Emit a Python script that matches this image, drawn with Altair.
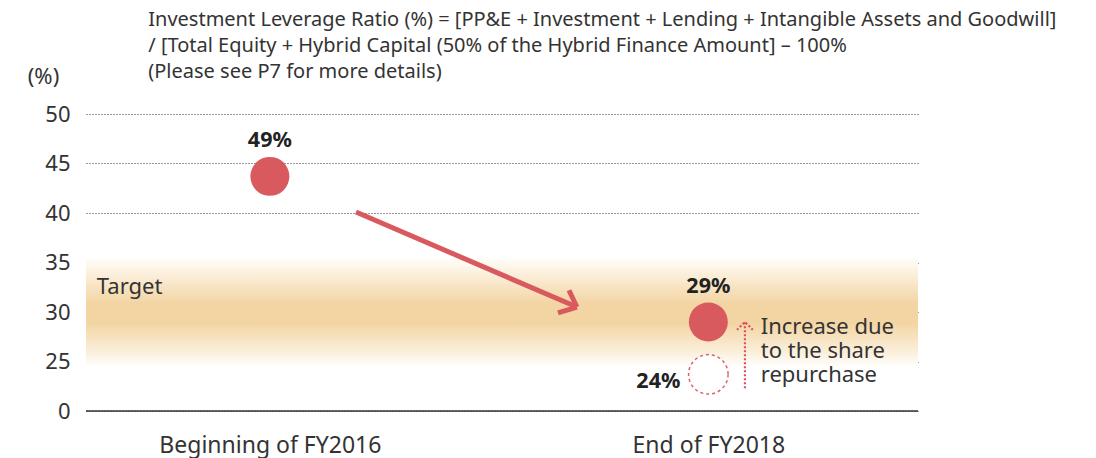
import altair as alt
import pandas as pd

FONT = "Noto Sans"
RED = "#d95a5e"
TXT = "#333333"

# ---- data ----
categories = ["Beginning of FY2016", "End of FY2018"]
cat_pos = [22.1, 74.8]              # x position of each category on a 0-100 track
point_y = [43.7, 29.0]              # plotted level
point_labels = ["49%", "29%"]

prior_pos = [74.8]
prior_y = [23.7]
prior_labels = ["24%"]

y_ticks = [20, 25, 30, 35, 40, 45, 50]   # 20 is shown as "0" (broken axis)

target_low, target_high = 24.4, 35.6

# main arrow (shaft + two head arms)
arrow_x = [32.45, 58.05, 56.73]
arrow_y = [40.1, 32.2, 29.9]
arrow_x2 = [59.0, 59.0, 59.0]
arrow_y2 = [30.5, 30.5, 30.5]

# dotted arrow (shaft + two head arms)
darrow_x = [79.2, 78.25, 80.15]
darrow_y = [22.3, 28.2, 28.2]
darrow_x2 = [79.2, 79.2, 79.2]
darrow_y2 = [29.0, 29.0, 29.0]

title_lines = [
    "Investment Leverage Ratio (%) = [PP&E + Investment + Lending + Intangible Assets and Goodwill]",
    "/ [Total Equity + Hybrid Capital (50% of the Hybrid Finance Amount] \u2013 100%",
    "(Please see P7 for more details)",
]

# ---- scales ----
xs = alt.Scale(domain=[0, 100], nice=False, zero=False)
ys = alt.Scale(domain=[20, 50], nice=False, zero=False)

def X(field="x"):
    return alt.X(f"{field}:Q", scale=xs, axis=alt.Axis(
        values=cat_pos,
        labelExpr=f"datum.value < 50 ? '{categories[0]}' : '{categories[1]}'",
        grid=False, domain=False, ticks=False, labelPadding=23, labelLimit=0,
        labelFontSize=23, labelColor=TXT, labelFont=FONT, title=None))

def Y(field="y"):
    return alt.Y(f"{field}:Q", scale=ys, axis=alt.Axis(
        values=y_ticks,
        labelExpr="datum.value == 20 ? '0' : datum.label",
        grid=True, gridDash=[1, 2], gridColor="#333333", gridWidth=1,
        domain=False, ticks=False, labelPadding=16,
        labelFontSize=22, labelColor=TXT, labelFont=FONT,
        title="(%)", titleAngle=0, titleX=-43, titleY=-38,
        titleAlign="center", titleBaseline="middle",
        titleFontSize=22, titleFontWeight="normal", titleColor=TXT, titleFont=FONT))

band_df = pd.DataFrame({"x": [0], "x2": [100], "y": [target_low], "y2": [target_high]})
band = alt.Chart(band_df).mark_rect(
    fill=alt.Gradient(
        gradient="linear", x1=0, x2=0, y1=0, y2=1,
        stops=[
            alt.GradientStop(offset=0, color="#ffffff"),
            alt.GradientStop(offset=0.15, color="#fbf0dd"),
            alt.GradientStop(offset=0.42, color="#f3d5a4"),
            alt.GradientStop(offset=0.6, color="#f3d5a4"),
            alt.GradientStop(offset=0.87, color="#fbf0dd"),
            alt.GradientStop(offset=1, color="#ffffff"),
        ]),
).encode(x=X(), x2="x2:Q", y=Y(), y2="y2:Q")

base_df = pd.DataFrame({"x": [0], "x2": [100], "y": [20]})
baseline = alt.Chart(base_df).mark_rule(color="#333333", strokeWidth=1.5).encode(
    x=X(), x2="x2:Q", y=Y())

arrow_df = pd.DataFrame({"x": arrow_x, "y": arrow_y, "x2": arrow_x2, "y2": arrow_y2})
arrow = alt.Chart(arrow_df).mark_rule(color=RED, strokeWidth=5, strokeCap="butt").encode(
    x=X(), y=Y(), x2="x2:Q", y2="y2:Q")

darrow_df = pd.DataFrame({"x": darrow_x, "y": darrow_y, "x2": darrow_x2, "y2": darrow_y2})
darrow = alt.Chart(darrow_df).mark_rule(color="#e0505c", strokeWidth=2.2, strokeDash=[2, 2]).encode(
    x=X(), y=Y(), x2="x2:Q", y2="y2:Q")

pts_df = pd.DataFrame({"x": cat_pos, "y": point_y, "label": point_labels})
pts = alt.Chart(pts_df).mark_circle(size=1520, color=RED, opacity=1).encode(x=X(), y=Y())
pts_text = alt.Chart(pts_df).mark_text(
    dy=-35, fontSize=21.5, fontWeight="bold", font=FONT, color="#222222", baseline="middle"
).encode(x=X(), y=Y(), text="label:N")

prior_df = pd.DataFrame({"x": prior_pos, "y": prior_y, "label": prior_labels})
prior = alt.Chart(prior_df).mark_point(
    shape="circle", size=1560, fill="white", filled=False, stroke="#e0606a",
    strokeWidth=1.5, strokeDash=[3, 3], opacity=1
).encode(x=X(), y=Y())
prior_text = alt.Chart(prior_df).mark_text(
    dx=-28, dy=8, align="right", fontSize=21.5, fontWeight="bold", font=FONT, color="#222222",
    baseline="middle"
).encode(x=X(), y=Y(), text="label:N")

notes_df = pd.DataFrame({
    "x": [1.3, 81.1],
    "y": [32.5, 28.5],
    "t": ["Target", "Increase due\nto the share\nrepurchase"],
})
notes = alt.Chart(notes_df).mark_text(
    align="left", baseline="middle", fontSize=22, font=FONT, color=TXT,
    lineBreak="\n", lineHeight=24
).encode(x=X(), y=Y(), text="t:N")

chart = alt.layer(band, baseline, arrow, darrow, pts, prior, pts_text, prior_text, notes).properties(
    width=832, height=297,
    autosize=alt.AutoSizeParams(type="none"),
    padding={"left": 78, "top": 106, "right": 170, "bottom": 47},
    title=alt.TitleParams(
        text=title_lines, anchor="start", dx=121, dy=47, offset=30,
        fontSize=20, font=FONT, fontWeight="normal", color=TXT, lineHeight=26),
).configure_view(stroke=None)

chart.save("out.html", embed_options={"renderer": "svg", "actions": False})
